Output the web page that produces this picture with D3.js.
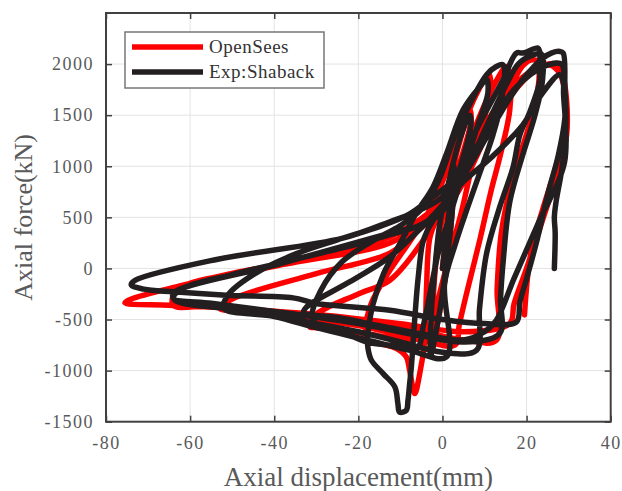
<!DOCTYPE html>
<html>
<head>
<meta charset="utf-8">
<script src="https://cdn.jsdelivr.net/npm/d3@7"></script>
<style>
  body { margin: 0; background: #fff; }
  svg { display: block; font-family: "Liberation Serif", "Times New Roman", serif; }
  svg text { font-family: "Liberation Serif", "Times New Roman", serif !important; }
</style>
</head>
<body>
<svg id="chart" width="622" height="491"></svg>
<script>
// tick values
const xTicks = [-80, -60, -40, -20, 0, 20, 40];
const yTicks = [-1500, -1000, -500, 0, 500, 1000, 1500, 2000];

// OpenSees (red) - displacement (mm) / force (kN)
const dispOS = [
  0, 2, 3, 2.3, 1, -1, -2.5, -2.2, -1.2, 0,
  2, 4.5, 6.5, 6.8, 5, 2, -1, -3, -3.8, -4.2, -5.4, -6.6, -7.8, -8.6, -10.9, -14.9, -18, -18.3,
  -17, -13, -8, -4, 0, 4, 8, 11, 11.5, 9.5, 7, 4.5, 1.5, -1, -3, -8, -18, -30, -31.5,
  -30, -20, -12.5, -5, 0, 5, 10, 13, 15.2, 16, 16, 14, 11.5, 9, 6, 4, 3, -5, -20, -35, -45, -52.9,
  -50, -30, -12.5, -5, 2, 7, 12, 16.5, 19, 21, 22.5, 23, 22, 19.5, 16.5, 14, 13, 12.8, 5, -5, -20, -40, -55, -64,
  -63.2, -40, -12.5, -5, 0, 5, 10, 15, 20, 24, 27, 28.5, 29.5, 29.5, 27.5, 24, 20, 17, 16, 5, -10, -30, -50, -65, -75.5,
  -74, -61.7, -49.8, -30.8, -12.5, -3, 3, 8, 13, 18, 22, 25.5, 28, 29.3, 29.3, 27, 24, 21, 19.5
];
const forceOS = [
  0, 750, 1000, 550, 0, -500, -800, -300, 200, 500,
  900, 1300, 1550, 1450, 1150, 800, 520, 300, -200, -700, -1029, -1225, -997, -866, -784, -735, -700, -600,
  -350, -50, 250, 500, 850, 1300, 1700, 1900, 1800, 1400, 1000, 550, 100, -300, -650, -700, -640, -580, -572,
  -450, -250, -115, 250, 600, 1100, 1600, 1850, 1977, 1900, 1550, 1150, 750, 300, -200, -550, -750, -700, -560, -480, -420, -392,
  -300, -50, 150, 400, 650, 1000, 1450, 1800, 1980, 2040, 2030, 1900, 1600, 1250, 850, 350, -200, -703, -700, -620, -500, -420, -370, -360,
  -213, 20, 250, 450, 700, 1050, 1400, 1700, 1900, 1990, 2000, 1900, 1650, 1300, 950, 500, 0, -350, -539, -620, -540, -450, -390, -360, -337,
  -300, -164, -46, 100, 310, 550, 800, 1150, 1500, 1780, 1940, 1990, 1900, 1650, 1400, 1000, 600, 150, -455
];

// Exp:Shaback (black)
const dispExp = [
  0, 2, 3, 2.2, 0.8, -1, -2.8, -2.6, -1.8, -0.6,
  1.5, 4, 6.5, 6.8, 5, 2, -1.5, -3.5, -4.7, -5.8, -6.6, -7.4, -7.8, -8.2, -8.6, -10.2, -10.6, -11.3, -14.1, -16.9, -17.7, -17.8,
  -16.5, -14, -10, -6.2, -2.2, 1, 4.9, 8.9, 10.5, 10.8, 8, 5, 2, -1, -3, -4.5, -6, -10, -18, -25, -30, -31,
  -29, -24, -17, -10, -5, -1, 3, 7, 10.5, 12.8, 14.4, 14, 12, 9, 6, 3, 0.5, 0.95, -8, -18, -30, -40, -52,
  -51, -45, -35, -25, -15, -8, -3, 2.5, 8, 14.4, 17.6, 19.2, 22.7, 23.1, 23.1, 23.1, 20.8, 18.4, 16.8, 13.6, 10.5, 8.8, 8.1, 0, -10, -20, -30, -40, -50, -63.6,
  -64, -40, -12.5, -3.8, 0, 5, 10, 15.2, 18, 21, 23.5, 23.8, 22, 19, 16, 14.5, 13.8, 13.6, 5, -5, -20, -40, -55, -64,
  -62, -50, -35, -20, -12.5, -5, 0, 5, 10, 15, 19.1, 23.9, 26, 27.9, 28.7, 29.1, 29.1, 27.5, 25, 22.5, 20, 18.4, 17.6, 10, 0, -12.5, -30, -35.5, -51.4, -64, -71, -74,
  -73, -53.7, -23.7, -12.5, -6, 0, 6, 12, 17, 21, 25, 28.3, 28.8, 29, 23.1, 17, 12.8, 10, 5, -5, -15, -25, -33,
  -32.3, -22, -12.5, -5, 0, 5, 12, 19.1, 23.5, 27.9, 29, 29.3, 28.3, 27, 26.6, 26.8, 26.6
];
const forceExp = [
  0, 700, 1000, 500, 0, -500, -850, -400, 0, 450,
  850, 1250, 1500, 1420, 1100, 750, 520, 380, 250, -100, -500, -965, -1127, -1291, -1389, -1406, -1324, -1161, -1029, -899, -784, -680,
  -350, -50, 250, 543, 800, 1127, 1552, 1780, 1850, 1720, 1350, 950, 550, 150, -250, -550, -780, -760, -720, -600, -540, -470,
  -220, 60, 260, 420, 580, 850, 1300, 1650, 1895, 1976, 1993, 1633, 1307, 950, 600, 230, -150, -866, -800, -700, -580, -470, -390,
  -260, -60, 140, 280, 410, 530, 680, 866, 1350, 1846, 2108, 2108, 2157, 2124, 1961, 1830, 1535, 1307, 993, 600, 150, -400, -801, -820, -720, -620, -540, -460, -400, -311,
  -245, 30, 346, 440, 560, 900, 1350, 1800, 2000, 2080, 2100, 1850, 1500, 1100, 650, 100, -300, -637, -720, -660, -540, -420, -340, -290,
  -200, -60, 90, 240, 330, 430, 580, 900, 1250, 1600, 1850, 2059, 2110, 2124, 2108, 1797, 1471, 1100, 720, 280, -100, -330, -523, -540, -500, -409, -343, -288, -262, -229, -203, -160,
  -115, 88, 297, 457, 560, 700, 1050, 1450, 1750, 1900, 1990, 2000, 1700, 1034, 473, -100, -507, -620, -700, -640, -560, -480, -430,
  -376, -130, 114, 400, 620, 850, 1100, 1405, 1699, 1895, 1750, 1325, 950, 650, 500, 350, 0
];

const seriesNames = ["OpenSees", "Exp:Shaback"];
const seriesColors = ["#ff0000", "#231f20"];

const svg = d3.select("#chart");
const margin = { top: 13, right: 11.3, bottom: 69.3, left: 106 },
  width = 622 - margin.left - margin.right,
  height = 491 - margin.top - margin.bottom;

const x = d3.scaleLinear().domain([-80, 40]).range([0, width]);
const y = d3.scaleLinear().domain([-1500, 2500]).range([height, 0]);

const g = svg.append("g")
  .attr("transform", "translate(" + margin.left + "," + margin.top + ")");

// grid
g.append("g").selectAll("line").data(xTicks).join("line")
  .attr("x1", d => x(d)).attr("x2", d => x(d))
  .attr("y1", 0).attr("y2", height)
  .attr("stroke", "#e3e3e3").attr("stroke-width", 1);
g.append("g").selectAll("line").data(yTicks).join("line")
  .attr("x1", 0).attr("x2", width)
  .attr("y1", d => y(d)).attr("y2", d => y(d))
  .attr("stroke", "#e3e3e3").attr("stroke-width", 1);

// data lines
g.append("clipPath").attr("id", "clip")
  .append("rect").attr("width", width).attr("height", height);

const plot = g.append("g").attr("clip-path", "url(#clip)");
const data = [[dispOS, forceOS], [dispExp, forceExp]];
data.forEach(([xs, ys], k) => {
  const line = d3.line()
    .x((d, i) => x(xs[i]))
    .y(d => y(d))
    .curve(d3.curveCatmullRom.alpha(0.5));
  plot.append("path")
    .datum(ys)
    .attr("fill", "none")
    .attr("stroke", seriesColors[k])
    .attr("stroke-width", 5.5)
    .attr("stroke-linejoin", "round")
    .attr("stroke-linecap", "round")
    .attr("d", line);
});

// axes
const axisColor = "#404040";
const textColor = "#595959";
const fmt = d => String(d);

g.append("g").attr("transform", "translate(0," + height + ")")
  .call(d3.axisBottom(x).tickValues(xTicks).tickFormat(fmt).tickSizeInner(-6).tickSizeOuter(0).tickPadding(15));
g.append("g")
  .call(d3.axisLeft(y).tickValues(yTicks).tickFormat(fmt).tickSizeInner(-6).tickSizeOuter(0).tickPadding(12));
g.append("g")
  .call(d3.axisTop(x).tickValues(xTicks).tickSizeInner(-6).tickSizeOuter(0).tickFormat(""));
g.append("g").attr("transform", "translate(" + width + ",0)")
  .call(d3.axisRight(y).tickValues(yTicks).tickSizeInner(-6).tickSizeOuter(0).tickFormat(""));

g.selectAll(".domain").remove();
g.selectAll(".tick line").attr("stroke", axisColor).attr("stroke-width", 1.5);
g.selectAll(".tick text")
  .attr("fill", textColor)
  .style("font-size", "18px")
  .style("letter-spacing", "1.5px");

g.append("rect")
  .attr("width", width).attr("height", height)
  .attr("fill", "none").attr("stroke", axisColor).attr("stroke-width", 2);

// axis titles
svg.append("text")
  .attr("x", margin.left + width / 2).attr("y", 486)
  .attr("text-anchor", "middle")
  .attr("fill", textColor)
  .style("font-size", "27px")
  .text("Axial displacement(mm)");
svg.append("text")
  .attr("transform", "translate(32," + (margin.top + height / 2) + ") rotate(-90)")
  .attr("text-anchor", "middle")
  .attr("fill", textColor)
  .style("font-size", "26px")
  .text("Axial force(kN)");

// legend
const legend = svg.append("g").attr("transform", "translate(125,32)");
legend.append("rect")
  .attr("width", 199).attr("height", 56)
  .attr("fill", "#fff").attr("stroke", "#777").attr("stroke-width", 1.5);
seriesNames.forEach((name, k) => {
  const row = legend.append("g").attr("transform", "translate(0," + (15 + k * 25) + ")");
  row.append("line")
    .attr("x1", 7).attr("x2", 78)
    .attr("stroke", seriesColors[k]).attr("stroke-width", 5.5);
  row.append("text")
    .attr("x", 84).attr("dy", "0.33em")
    .attr("fill", "#333")
    .style("font-size", "19px")
    .style("letter-spacing", "0.5px")
    .text(name);
});
</script>
</body>
</html>
